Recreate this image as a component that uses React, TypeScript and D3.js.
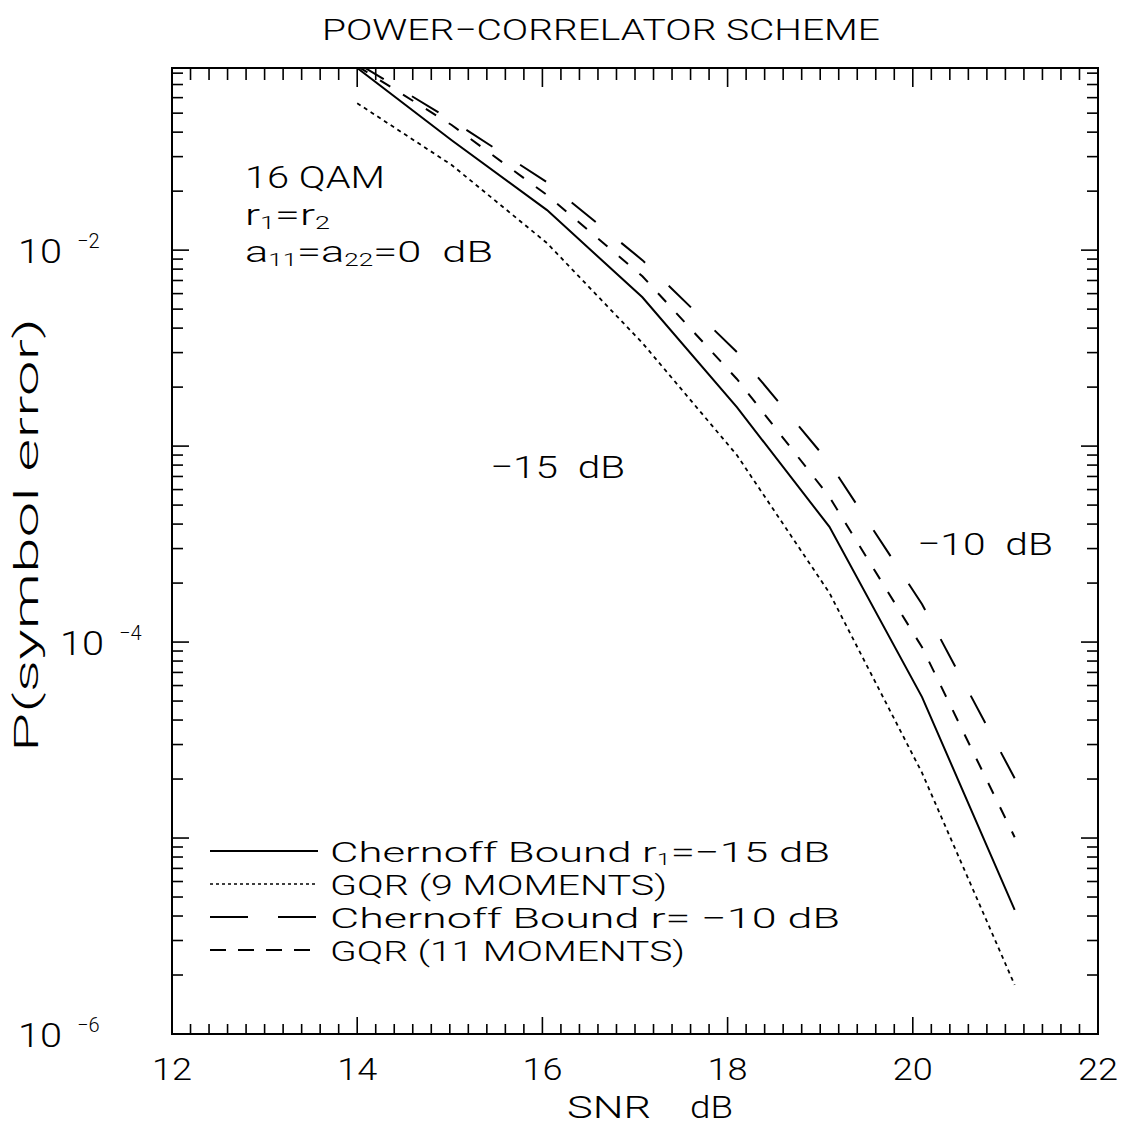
import React from "react";
import * as d3 from "d3";

// SNR (dB) at which each curve was evaluated
const SNR_DB = [14, 15.02, 16.05, 17.08, 18.1, 19.1, 20.1, 21.1];
// P(symbol error) for each curve
const CHERNOFF_R15 = [0.085, 0.0364, 0.016, 0.00575, 0.00158, 3.87e-4, 5.24e-5, 4.3e-6];
const GQR_9 = [0.0562, 0.0272, 0.01086, 0.00336, 9.0e-4, 1.78e-4, 2.15e-5, 1.78e-6];
const CHERNOFF_R10 = [0.09, 0.046, 0.0222, 0.00889, 0.00302, 8.2e-4, 1.56e-4, 2.02e-5];
const GQR_11 = [0.087, 0.0435, 0.0191, 0.00736, 0.0022, 5.5e-4, 9.4e-5, 1.01e-5];

const X_TICK_LABELS = [12, 14, 16, 18, 20, 22];
const Y_LABEL_EXPONENTS = [-2, -4, -6];
const LEGEND_LABELS = [
  "Chernoff Bound r1=\u221215 dB",
  "GQR (9 MOMENTS)",
  "Chernoff Bound r= \u221210 dB",
  "GQR (11 MOMENTS)",
];

const W = 1137;
const H = 1126;
const M = { left: 172, right: 1098, top: 68, bottom: 1034 };
const FONT = "Roboto, 'DejaVu Sans', sans-serif";

const x = d3.scaleLinear().domain([12, 22]).range([M.left, M.right]);
const y = d3.scaleLog().domain([1e-6, 0.085]).range([M.bottom, M.top]);

const series = [
  { values: CHERNOFF_R15, dash: null, legendDash: null },
  { values: GQR_9, dash: "4,4", legendDash: "3,3" },
  { values: CHERNOFF_R10, dash: "31,33", legendDash: "38,30" },
  { values: GQR_11, dash: "12,15", legendDash: "16,12" },
];

const line = d3
  .line<[number, number]>()
  .x((d) => x(d[0]))
  .y((d) => y(d[1]));

function xTicks() {
  const out: { v: number; major: boolean }[] = [];
  for (let i = 1; i < 50; i++) {
    out.push({ v: 12 + i * 0.2, major: i % 10 === 0 });
  }
  return out;
}

function yTicks() {
  const out: { v: number; major: boolean }[] = [];
  const [lo, hi] = y.domain();
  for (let e = -6; e <= -1; e++) {
    for (let k = 1; k <= 9; k++) {
      const v = k * Math.pow(10, e);
      if (v > lo * 1.0001 && v < hi * 0.999) out.push({ v, major: k === 1 });
    }
  }
  return out;
}

// horizontal offset of each decade label along the left axis
const Y_LABEL_X: Record<number, number> = { [-2]: 18, [-4]: 60, [-6]: 18 };

export default function App() {
  const xt = xTicks();
  const yt = yTicks();
  const textStyle = { fontFamily: FONT, fontWeight: 300, fill: "#000" } as const;

  return (
    <svg
      width={W}
      height={H}
      viewBox={`0 0 ${W} ${H}`}
      style={{ position: "absolute", left: 0, top: 0, background: "#fff", display: "block" }}
    >
      <rect x={0} y={0} width={W} height={H} fill="#fff" />
      <defs>
        <clipPath id="plot-area">
          <rect x={M.left} y={M.top} width={M.right - M.left} height={M.bottom - M.top} />
        </clipPath>
      </defs>

      {/* title */}
      <text x={601} y={40} textAnchor="middle" fontSize={30} textLength={558} lengthAdjust="spacingAndGlyphs" {...textStyle}>
        POWER{"\u2212"}CORRELATOR SCHEME
      </text>

      {/* ticks */}
      <g stroke="#000" strokeWidth={1.6}>
        {xt.map((t, i) => {
          const px = x(t.v);
          const len = t.major ? 17 : 10;
          return (
            <g key={"xt" + i}>
              <line x1={px} x2={px} y1={M.bottom} y2={M.bottom - len} />
              <line x1={px} x2={px} y1={M.top} y2={M.top + len + 2} />
            </g>
          );
        })}
        {yt.map((t, i) => {
          const py = y(t.v);
          const len = t.major ? 17 : 11;
          return (
            <g key={"yt" + i}>
              <line x1={M.left} x2={M.left + len} y1={py} y2={py} />
              <line x1={M.right} x2={M.right - len} y1={py} y2={py} />
            </g>
          );
        })}
      </g>

      {/* frame */}
      <rect
        x={M.left}
        y={M.top}
        width={M.right - M.left}
        height={M.bottom - M.top}
        fill="none"
        stroke="#000"
        strokeWidth={2}
      />

      {/* x tick labels */}
      {X_TICK_LABELS.map((v) => (
        <text key={"xl" + v} x={x(v)} y={1080} textAnchor="middle" fontSize={32} textLength={40} lengthAdjust="spacingAndGlyphs" {...textStyle}>
          {v}
        </text>
      ))}

      {/* y tick labels */}
      {Y_LABEL_EXPONENTS.map((e) => {
        const py = y(Math.pow(10, e));
        const lx = Y_LABEL_X[e];
        return (
          <g key={"yl" + e}>
            <text x={lx} y={py + 13} fontSize={34} textLength={44} lengthAdjust="spacingAndGlyphs" {...textStyle}>
              10
            </text>
            <text x={lx + 59} y={py - 2} fontSize={20} {...textStyle}>
              {"\u2212" + Math.abs(e)}
            </text>
          </g>
        );
      })}

      {/* axis titles */}
      <text x={567} y={1118} fontSize={32} textLength={84} lengthAdjust="spacingAndGlyphs" {...textStyle}>
        SNR
      </text>
      <text x={690} y={1118} fontSize={32} textLength={43} lengthAdjust="spacingAndGlyphs" {...textStyle}>
        dB
      </text>
      <text
        transform="translate(38,535) rotate(-90)"
        textAnchor="middle"
        fontSize={34}
        textLength={434}
        lengthAdjust="spacingAndGlyphs"
        {...textStyle}
      >
        P(symbol error)
      </text>

      {/* curves */}
      <g clipPath="url(#plot-area)" fill="none" stroke="#000">
        {series.map((s, i) => (
          <path
            key={"s" + i}
            d={line(SNR_DB.map((v, j) => [v, s.values[j]] as [number, number])) || ""}
            strokeWidth={i === 1 ? 1.8 : 2}
            strokeDasharray={s.dash || undefined}
          />
        ))}
      </g>

      {/* annotations */}
      <text x={245} y={188} fontSize={32} textLength={140} lengthAdjust="spacingAndGlyphs" {...textStyle}>
        16 QAM
      </text>
      <text x={245} y={225} fontSize={30} textLength={85} lengthAdjust="spacingAndGlyphs" {...textStyle}>
        r<tspan fontSize={18} dy={4}>1</tspan>
        <tspan dy={-4}>=r</tspan>
        <tspan fontSize={18} dy={4}>2</tspan>
      </text>
      <text x={245} y={262} fontSize={30} textLength={248} lengthAdjust="spacingAndGlyphs" {...textStyle}>
        a<tspan fontSize={18} dy={4}>11</tspan>
        <tspan dy={-4}>=a</tspan>
        <tspan fontSize={18} dy={4}>22</tspan>
        <tspan dy={-4}>=0{"\u00a0\u00a0"}dB</tspan>
      </text>
      <text x={490} y={478} fontSize={32} textLength={135} lengthAdjust="spacingAndGlyphs" {...textStyle}>
        {"\u221215\u00a0\u00a0dB"}
      </text>
      <text x={917} y={555} fontSize={32} textLength={136} lengthAdjust="spacingAndGlyphs" {...textStyle}>
        {"\u221210\u00a0\u00a0dB"}
      </text>

      {/* legend */}
      {LEGEND_LABELS.map((label, i) => {
        const ly = 851 + i * 33;
        const s = series[i];
        const widths = [500, 337, 510, 355];
        return (
          <g key={"lg" + i}>
            <line
              x1={210}
              x2={318}
              y1={ly}
              y2={ly}
              stroke="#000"
              strokeWidth={i === 1 ? 1.6 : 2}
              strokeDasharray={s.legendDash || undefined}
            />
            {i === 0 ? (
              <text x={330} y={ly + 11} fontSize={28} textLength={widths[i]} lengthAdjust="spacingAndGlyphs" {...textStyle}>
                Chernoff Bound r<tspan fontSize={16} dy={3}>1</tspan>
                <tspan dy={-3}>={"\u2212"}15 dB</tspan>
              </text>
            ) : (
              <text x={330} y={ly + 11} fontSize={28} textLength={widths[i]} lengthAdjust="spacingAndGlyphs" {...textStyle}>
                {label}
              </text>
            )}
          </g>
        );
      })}
    </svg>
  );
}
